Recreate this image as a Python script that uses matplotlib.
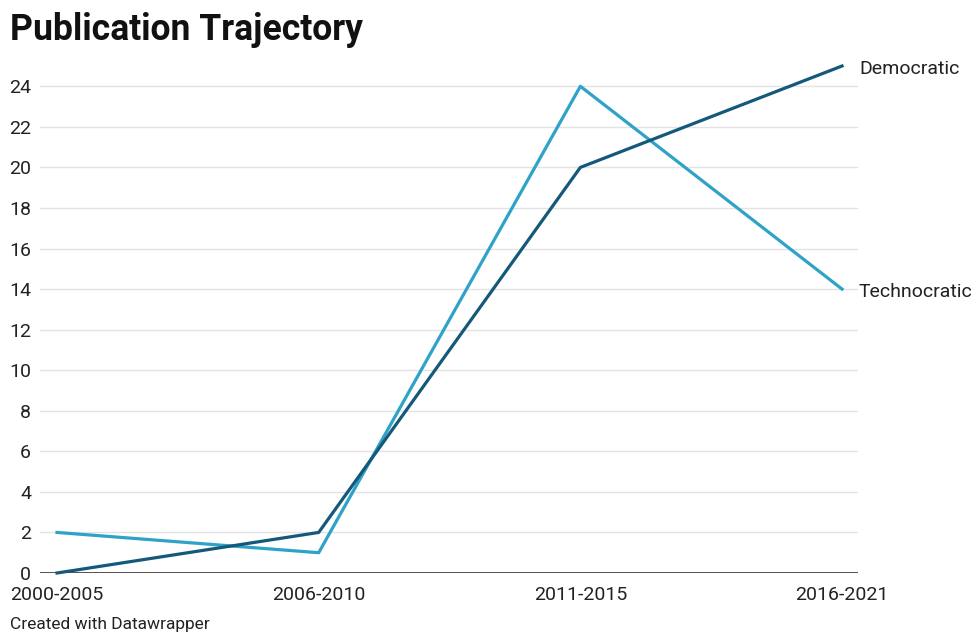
import matplotlib
matplotlib.use("Agg")
import matplotlib.pyplot as plt
from matplotlib.transforms import offset_copy

# data
periods = ["2000-2005", "2006-2010", "2011-2015", "2016-2021"]
democratic = [0, 2, 20, 25]
technocratic = [2, 1, 24, 14]
y_ticks = list(range(0, 25, 2))

DEM_COLOR = "#15597a"
TECH_COLOR = "#2ea3c7"

plt.rcParams["font.family"] = ["Roboto", "DejaVu Sans"]

fig = plt.figure(figsize=(9.72, 6.34), dpi=100)
ax = fig.add_axes([40 / 972, 1 - 573 / 634, 818 / 972, 507 / 634])

x = list(range(len(periods)))
ax.plot(x, technocratic, color=TECH_COLOR, lw=2.3, clip_on=False, zorder=3)
ax.plot(x, democratic, color=DEM_COLOR, lw=2.3, clip_on=False, zorder=4)

ax.set_xlim(-0.065, 3.061)
ax.set_ylim(0, 25)
ax.set_yticks(y_ticks)
ax.set_xticks(x)
ax.set_xticklabels(periods)
ax.tick_params(axis="both", length=0, labelsize=14, colors="#222222")
ax.tick_params(axis="y", pad=6.5)
ax.tick_params(axis="x", pad=9)

ax.grid(axis="y", color="#e3e3e3", lw=1)
ax.set_axisbelow(True)
for s in ax.spines.values():
    s.set_visible(False)
ax.axhline(0, color="#333333", lw=1.2, zorder=2)

# direct labels at line ends, nudged a few px down like the reference
lbl_tr = offset_copy(ax.transData, fig=fig, x=0, y=-3, units="dots")
ax.text(3.065, democratic[-1], "Democratic", ha="left", va="center",
        fontsize=14, color="#222222", clip_on=False, transform=lbl_tr)
ax.text(3.065, technocratic[-1], "Technocratic", ha="left", va="center",
        fontsize=14, color="#222222", clip_on=False, transform=lbl_tr)

fig.text(10 / 972, 1 - 30 / 634, "Publication Trajectory", fontsize=25.6,
         fontweight="bold", ha="left", va="center", color="#111111")
fig.text(10 / 972, 1 - 624 / 634, "Created with Datawrapper", fontsize=12.5,
         ha="left", va="center", color="#222222")

fig.savefig("out.png", dpi=100)
